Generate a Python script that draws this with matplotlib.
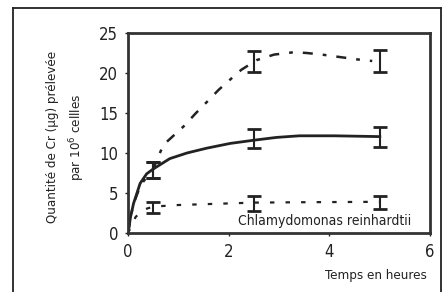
import matplotlib
matplotlib.use("Agg")
import matplotlib.pyplot as plt
from matplotlib.lines import Line2D

plt.rcParams['font.family'] = ['DejaVu Sans']
plt.rcParams['font.stretch'] = 'condensed'

# mesures (barres d'erreur)
t_mes = [0.5, 2.5, 5.0]
cr_haut = [7.9, 21.4, 21.5]
cr_haut_err = [1.0, 1.3, 1.4]
cr_moy = [7.9, 11.8, 12.0]
cr_moy_err = [1.0, 1.2, 1.2]
cr_bas = [3.2, 3.7, 3.8]
cr_bas_err = [0.7, 0.9, 0.8]

# courbes
t_haut = [0, 0.1, 0.25, 0.5, 0.7, 1.1, 1.35, 1.6, 1.8, 2.05, 2.25, 2.55, 2.9, 3.3, 3.55, 3.85, 4.2, 4.55, 4.85]
y_haut = [0, 3.5, 6.0, 8.0, 11.0, 13.3, 15.0, 16.6, 17.9, 19.3, 20.4, 21.6, 22.3, 22.6, 22.5, 22.3, 22.0, 21.7, 21.5]
t_sol = [0, 0.05, 0.11, 0.24, 0.37, 0.5, 0.83, 1.17, 1.56, 2.03, 2.5, 2.95, 3.4, 4.1, 5.0]
y_sol = [0, 2.0, 3.7, 6.2, 7.4, 8.0, 9.3, 10.0, 10.6, 11.2, 11.6, 11.95, 12.15, 12.15, 12.05]
t_bas = [0, 0.15, 0.3, 0.5, 1.0, 2.0, 2.5, 3.5, 5.0]
y_bas = [0, 2.0, 2.9, 3.3, 3.5, 3.7, 3.8, 3.85, 3.9]

fig = plt.figure(figsize=(4.43, 2.92), dpi=100)
ax = fig.add_axes([0.289, 0.202, 0.682, 0.685])

ax.plot(t_haut, y_haut, color='#222222', lw=1.8, dashes=(4, 4, 1.5, 4))
ax.plot(t_sol, y_sol, color='#222222', lw=2.0)
ax.plot(t_bas, y_bas, color='#222222', lw=1.6, dashes=(2, 5))

for y, e in [(cr_haut, cr_haut_err), (cr_moy, cr_moy_err), (cr_bas, cr_bas_err)]:
    ax.errorbar(t_mes, y, yerr=e, fmt='none', ecolor='#222222',
                elinewidth=1.5, capsize=5, capthick=2.0)

ax.set_xlim(0, 6)
ax.set_ylim(0, 25)
ax.set_xticks([0, 2, 4, 6])
ax.set_yticks([0, 5, 10, 15, 20, 25])
ax.tick_params(labelsize=12, length=2, width=1, pad=5, colors='#222222')
for s in ax.spines.values():
    s.set_linewidth(2)
    s.set_color('#333333')

ax.text(3.9, 1.5, 'Chlamydomonas reinhardtii', fontsize=10, ha='center', va='center', color='#222222')
fig.text(0.963, 0.058, 'Temps en heures', fontsize=9.5, ha='right', va='center', color='#222222')
fig.text(0.151, 0.531, 'Quantité de Cr (µg) prélevée\npar 10$^6$ cellles', fontsize=9.5,
         rotation=90, ha='center', va='center', multialignment='center',
         linespacing=1.6, color='#222222')

# cadre extérieur
fig.add_artist(Line2D([0.03, 0.03], [-0.1, 0.973], transform=fig.transFigure, color='#222222', lw=1.3))
fig.add_artist(Line2D([0.03, 0.995], [0.973, 0.973], transform=fig.transFigure, color='#222222', lw=1.3))
fig.add_artist(Line2D([0.995, 0.995], [-0.1, 0.973], transform=fig.transFigure, color='#222222', lw=1.3))

fig.savefig('out.png', dpi=100)
